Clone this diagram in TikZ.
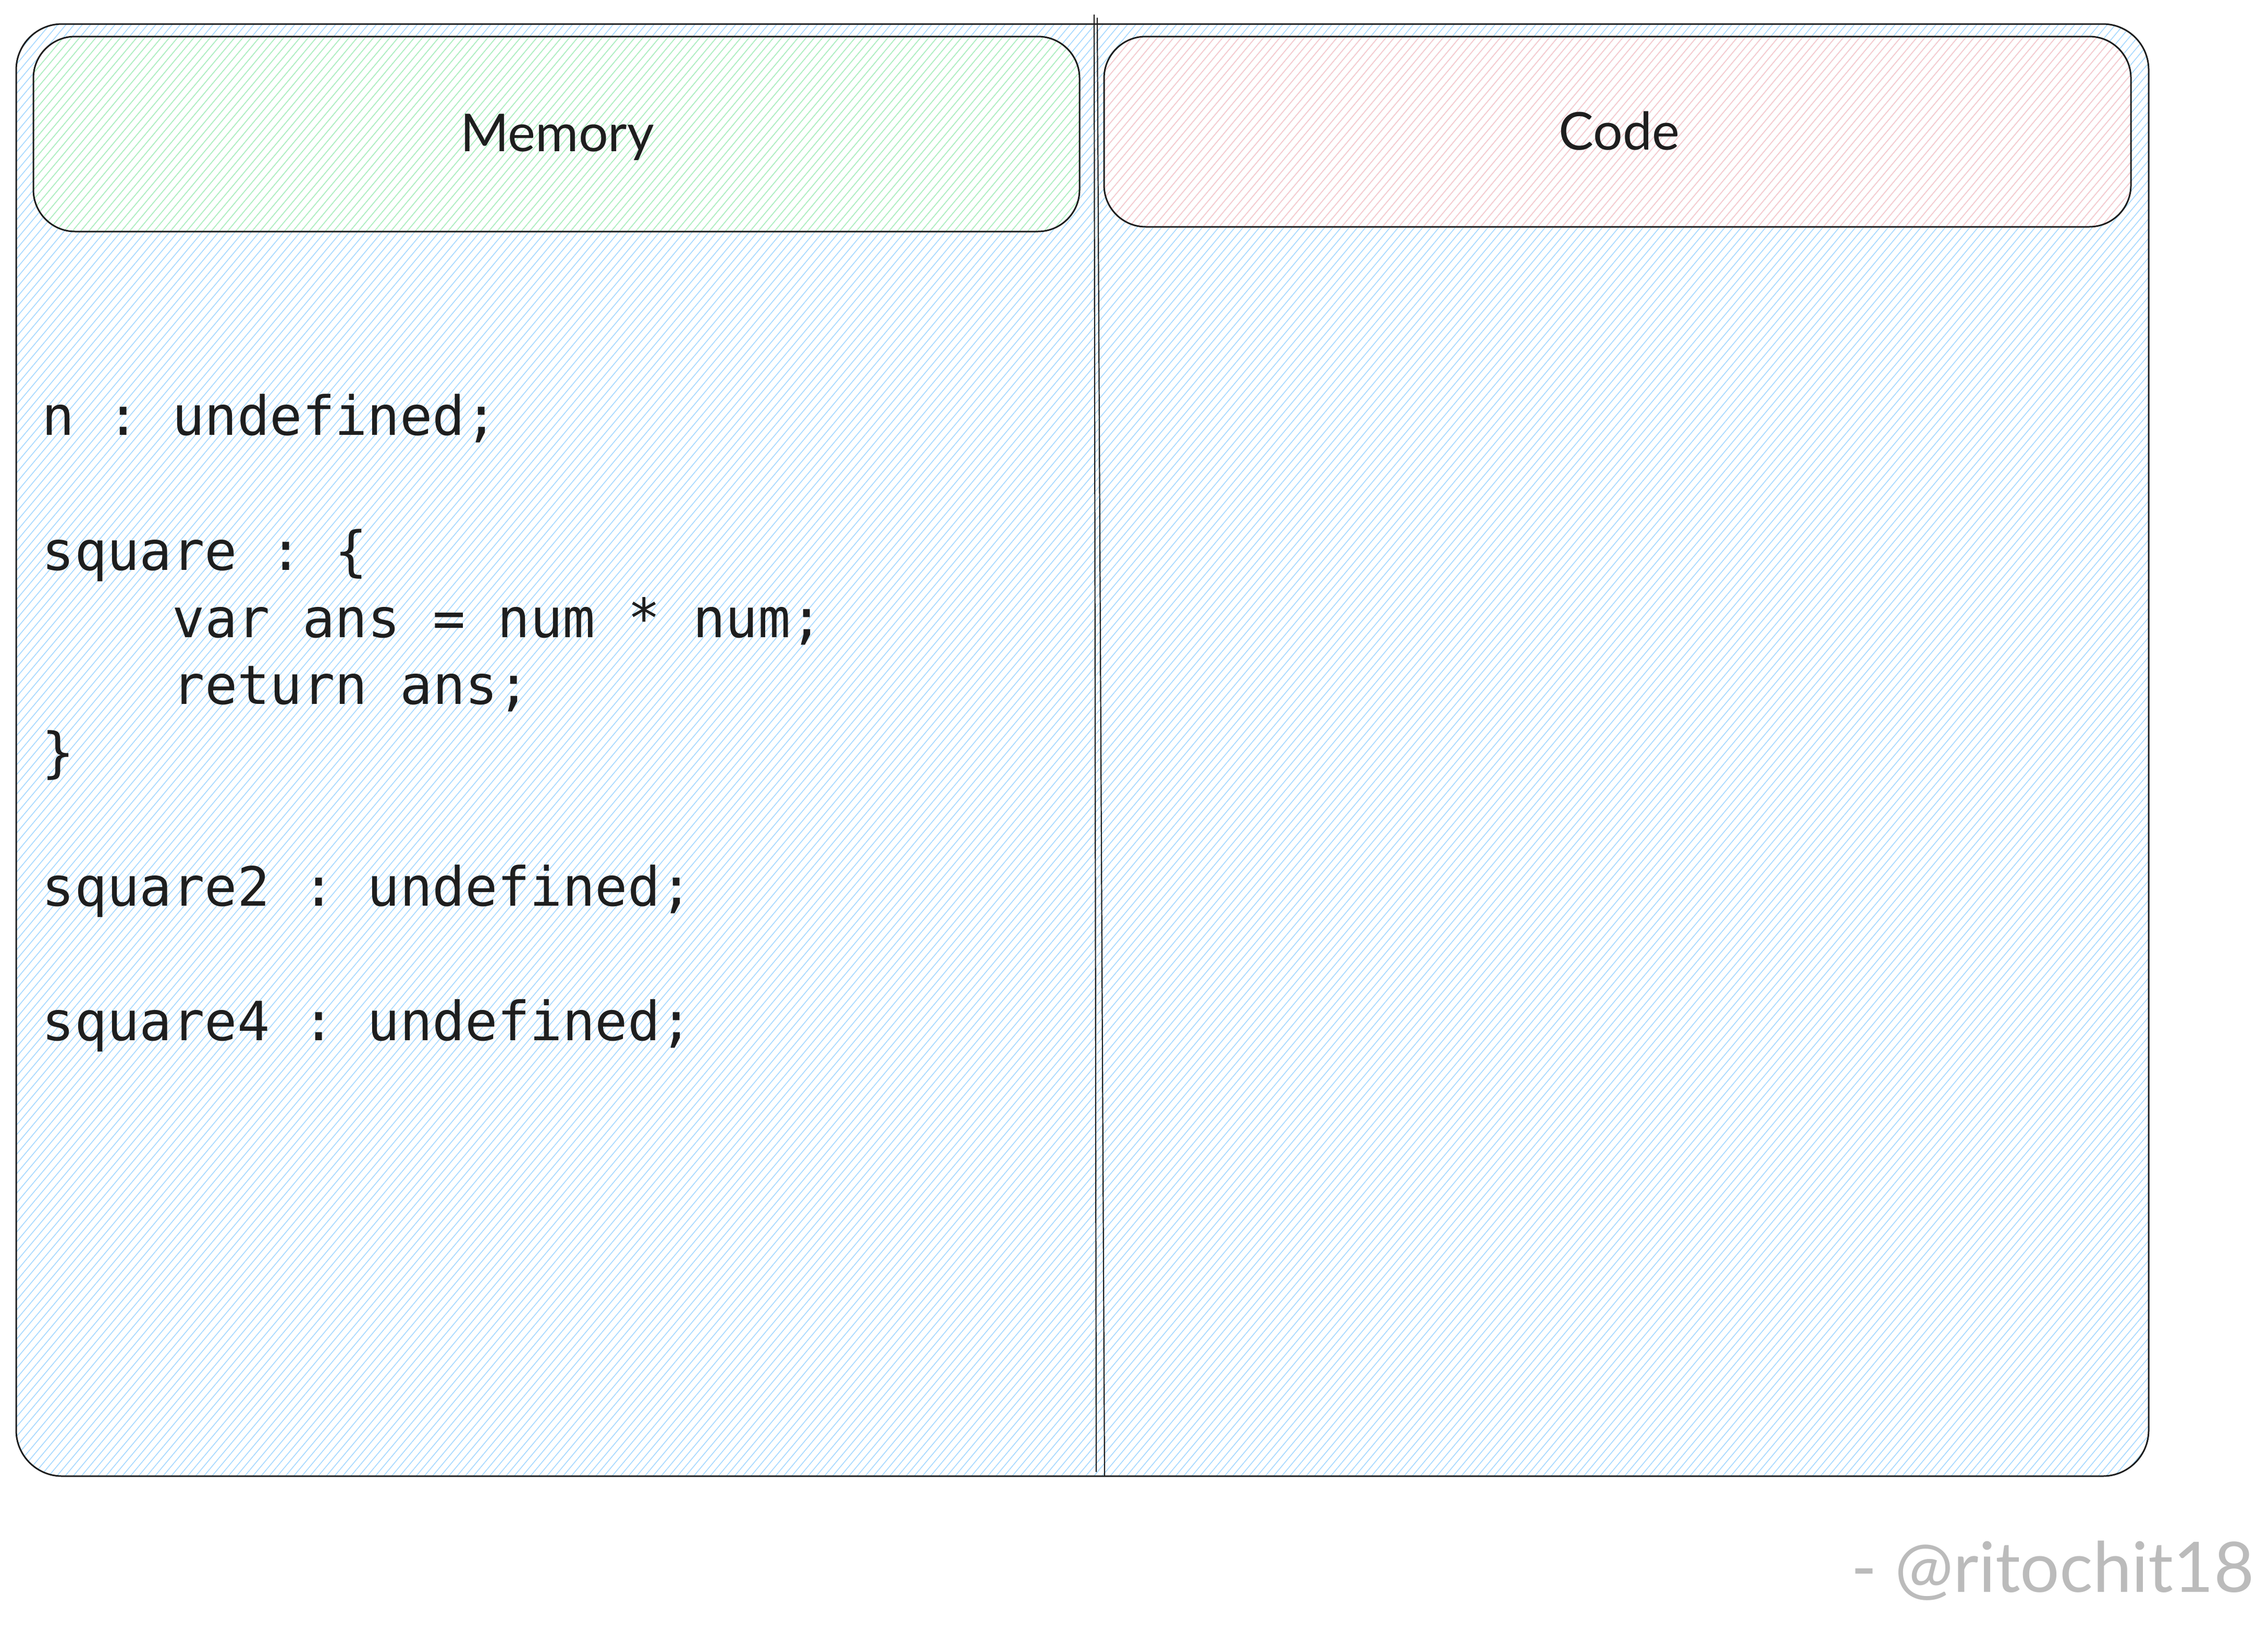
\documentclass[tikz,border=0pt]{standalone}
\usepackage{fontspec}
\newfontfamily\codefont{DejaVu Sans Mono}
\newfontfamily\handfont{Lato}
\usetikzlibrary{patterns.meta}
\definecolor{ink}{HTML}{1E1E1E}
\definecolor{hblue}{HTML}{A5D8FF}
\definecolor{hgreen}{HTML}{B2F2BB}
\definecolor{hred}{HTML}{FFC9C9}
\definecolor{signgray}{HTML}{BBBBBB}
\frenchspacing

\begin{document}
\begin{tikzpicture}[
	panel/.style={draw=ink,line width=0.03cm,rounded corners=#1},
	hatch/.style={pattern={Lines[angle=50,distance=0.12cm,line width=0.016cm]},pattern color=#1},
	divider/.style={draw=ink,line width=0.022cm},
	heading/.style={anchor=base,inner sep=0,text=ink,font=\handfont\fontsize{28.5pt}{34pt}\selectfont},
	codeline/.style={anchor=base west,inner sep=0,text=ink,font=\codefont\fontsize{29.5pt}{36pt}\selectfont}
]
	\useasboundingbox (0,0) rectangle (43.51,-31.29);
	\draw[panel=0.88cm,hatch=hblue] (0.31,-0.46) rectangle (41.22,-28.31);
	\draw[panel=0.8cm,hatch=hgreen] (0.64,-0.70) rectangle (20.71,-4.44);
	\draw[panel=0.8cm,hatch=hred] (21.18,-0.70) rectangle (40.88,-4.35);
	\draw[divider] (20.99,-0.28) -- (21.03,-28.23);
	\draw[divider] (21.05,-0.34) -- (21.19,-28.31);
	\node[heading] (memory) at (10.69,-2.90) {Memory};
	\node[heading] (code) at (31.06,-2.87) {Code};
	\node[codeline] (nline) at (0.80,-8.34) {n : undefined;};
	\node[codeline] (sqopen) at (0.80,-10.93) {square : \{};
	\node[codeline] (sqvar) at (3.30,-12.22) {var ans = num * num;};
	\node[codeline] (sqret) at (3.30,-13.50) {return ans;};
	\node[codeline] (sqclose) at (0.80,-14.79) {\}};
	\node[codeline] (sqtwo) at (0.80,-17.37) {square2 : undefined;};
	\node[codeline] (sqfour) at (0.80,-19.95) {square4 : undefined;};
	\node[anchor=base east,inner sep=0,text=signgray,font=\handfont\fontsize{38pt}{44pt}\selectfont] (sign) at (43.25,-30.53) {- @ritochit18};
\end{tikzpicture}
\end{document}
